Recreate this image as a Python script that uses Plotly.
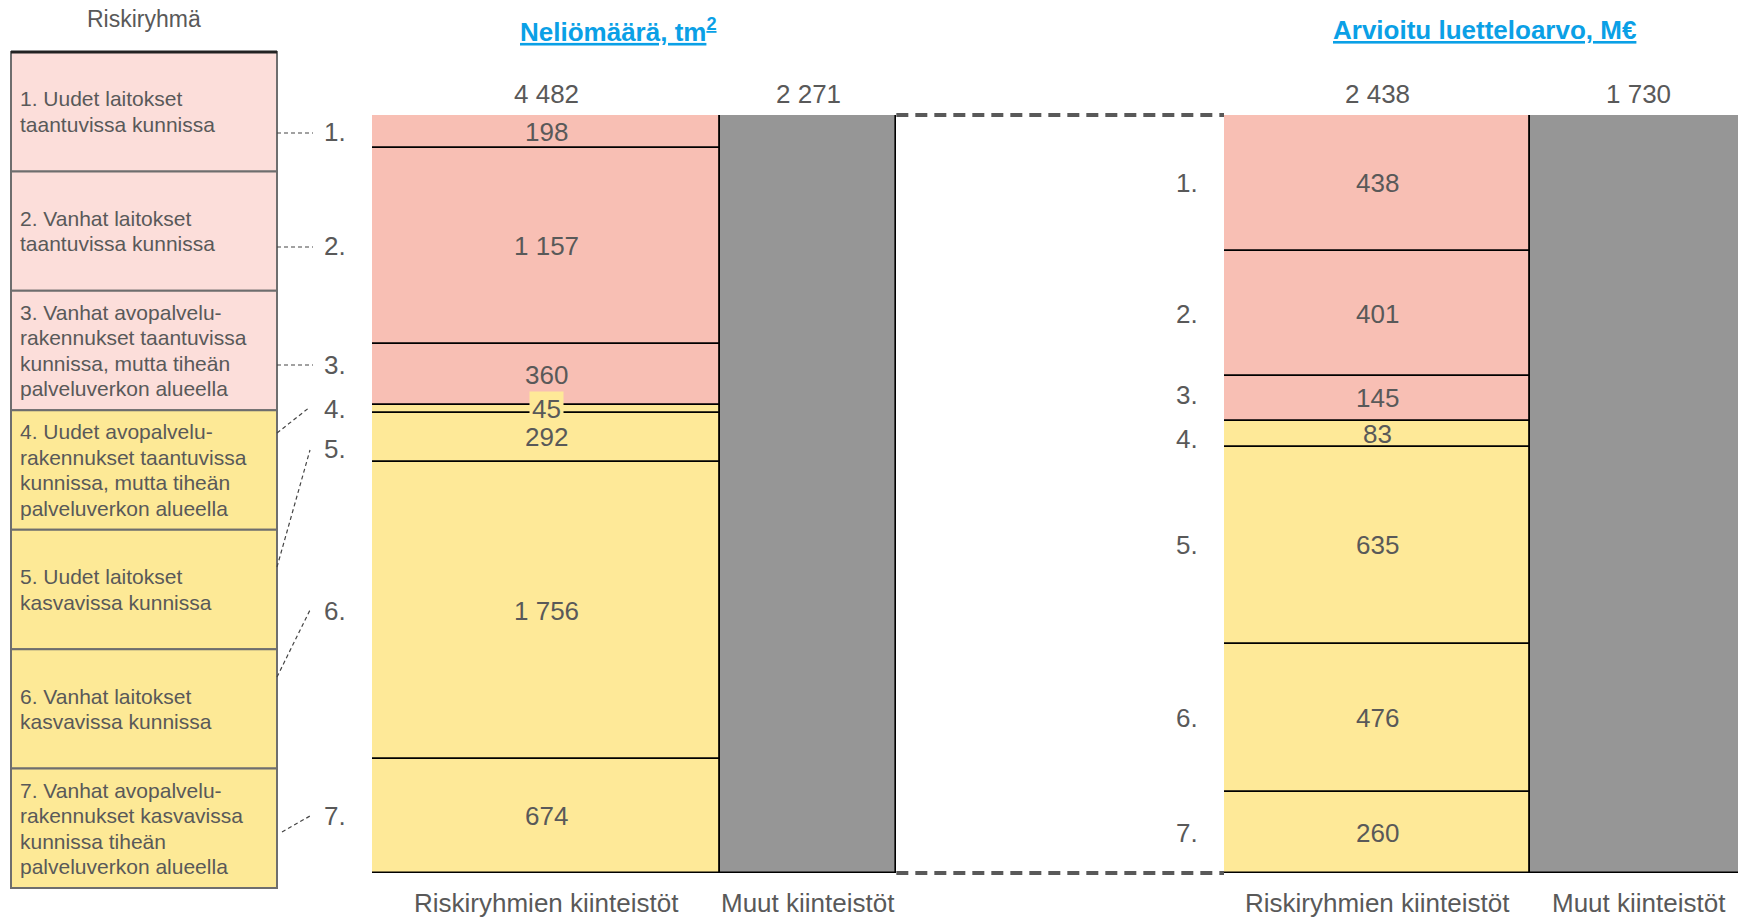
import plotly.graph_objects as go

# ---- data -------------------------------------------------------------
group_numbers = ["1.", "2.", "3.", "4.", "5.", "6.", "7."]
group_names = [
    "1. Uudet laitokset<br>taantuvissa kunnissa",
    "2. Vanhat laitokset<br>taantuvissa kunnissa",
    "3. Vanhat avopalvelu-<br>rakennukset taantuvissa<br>kunnissa, mutta tiheän<br>palveluverkon alueella",
    "4. Uudet avopalvelu-<br>rakennukset taantuvissa<br>kunnissa, mutta tiheän<br>palveluverkon alueella",
    "5. Uudet laitokset<br>kasvavissa kunnissa",
    "6. Vanhat laitokset<br>kasvavissa kunnissa",
    "7. Vanhat avopalvelu-<br>rakennukset kasvavissa<br>kunnissa tiheän<br>palveluverkon alueella",
]
declining_municipality = [True, True, True, False, False, False, False]

area_risk = [198, 1157, 360, 45, 292, 1756, 674]   # tm2
area_other = 2271
value_risk = [438, 401, 145, 83, 635, 476, 260]    # M€
value_other = 1730

column_labels = ["Riskiryhmien kiinteistöt", "Muut kiinteistöt"]
panel_titles = ["Neliömäärä, tm<sup>2</sup>", "Arvioitu luetteloarvo, M€"]
legend_title = "Riskiryhmä"

# ---- styling ----------------------------------------------------------
W, H = 1738, 919
FONT = "Liberation Sans, Arial, sans-serif"
TXT = "#595959"
BLUE = "#0AA0E6"
PINK = "#F8BFB4"
YELLOW = "#FEE998"
PINK_LIGHT = "#FCDEDA"
YELLOW_LIGHT = "#FDE996"
GREY = "#969696"

NUM_SIZE = 26
KEY_SIZE = 21
KEY_LINE = 25.5

BAR_TOP, BAR_BOTTOM = 115, 873

def px(x):
    return x / W

def py(y):
    return 1 - y / H

fig = go.Figure()
annotations = []
shapes = []

# number-label nudges where neighbouring segments are thin
nudges = {
    "x": {2: 10, 4: -12},
    "x2": {2: 3, 3: -5},
}

def fmt(v):
    return f"{v:,}".replace(",", " ")

def add_panel(axis, risk, other, left_px, risk_px):
    total = sum(risk)
    ppu = risk_px / total
    right_px = min(W, left_px + (total + other) * ppu)
    layout_key = "xaxis" if axis == "x" else "xaxis2"
    yaxis = "y" if axis == "x" else "y2"
    fig.update_layout(**{
        layout_key: dict(domain=[px(left_px), px(right_px)],
                         range=[0, (right_px - left_px) / ppu],
                         visible=False, fixedrange=True),
        ("yaxis" if axis == "x" else "yaxis2"): dict(
            domain=[py(BAR_BOTTOM), py(BAR_TOP)], range=[1, 0],
            visible=False, fixedrange=True),
    })

    shares = [v / total for v in risk]
    bases = []
    acc = 0.0
    for s in shares:
        bases.append(acc)
        acc += s
    colors = [PINK if d else YELLOW for d in declining_municipality]

    fig.add_trace(go.Bar(
        x=[total / 2] * len(risk), y=shares, base=bases, width=[total] * len(risk),
        marker=dict(color=colors, line=dict(color="black", width=1.6)),
        xaxis=axis, yaxis=yaxis, showlegend=False, hoverinfo="skip",
    ))
    fig.add_trace(go.Bar(
        x=[total + other / 2], y=[1], base=[0], width=[other],
        marker=dict(color=GREY, line=dict(color="black", width=1.6)),
        xaxis=axis, yaxis=yaxis, showlegend=False, hoverinfo="skip",
    ))

    # values inside segments
    for i, (v, s, b) in enumerate(zip(risk, shares, bases)):
        small = s < 0.03
        ann = dict(
            x=total / 2, y=b + s / 2, xref=axis, yref=yaxis,
            xanchor="center", yanchor="middle",
            text=fmt(v), showarrow=False,
            font=dict(family=FONT, size=NUM_SIZE, color=TXT),
        )
        if small:
            ann.update(bgcolor=YELLOW, borderpad=2)
        annotations.append(ann)
        annotations.append(dict(
            x=0, y=b + s / 2, xref=axis, yref=yaxis,
            xanchor="right", yanchor="middle",
            xshift=-24, yshift=nudges[axis].get(i, 0),
            text=group_numbers[i], showarrow=False,
            font=dict(family=FONT, size=NUM_SIZE, color=TXT),
        ))

    # column totals and captions
    for cx, val, cap in [(total / 2, total, column_labels[0]),
                         (total + other / 2, other, column_labels[1])]:
        annotations.append(dict(
            x=cx, y=0, xref=axis, yref=yaxis,
            xanchor="center", yanchor="middle", yshift=BAR_TOP - 94,
            text=fmt(val), showarrow=False,
            font=dict(family=FONT, size=NUM_SIZE, color=TXT),
        ))
        annotations.append(dict(
            x=cx, y=1, xref=axis, yref=yaxis,
            xanchor="center", yanchor="middle", yshift=BAR_BOTTOM - 903,
            text=cap, showarrow=False, borderpad=0,
            font=dict(family=FONT, size=NUM_SIZE, color=TXT),
        ))
    return left_px, left_px + (total + other) * ppu

l_left, l_right = add_panel("x", area_risk, area_other, 372, 348)
r_left, r_right = add_panel("x2", value_risk, value_other, 1224, 306)

# panel titles
for tx, t in [(618, panel_titles[0]), (1484, panel_titles[1])]:
    annotations.append(dict(
        x=px(tx), y=py(30), xref="paper", yref="paper",
        xanchor="center", yanchor="middle",
        text=f"<u><b>{t}</b></u>", showarrow=False,
        font=dict(family=FONT, size=26, color=BLUE),
    ))

# dashed links between the two panels
for yy in (BAR_TOP, BAR_BOTTOM):
    shapes.append(dict(
        type="line", xref="paper", yref="paper",
        x0=px(l_right), x1=px(r_left), y0=py(yy), y1=py(yy),
        line=dict(color="#595959", width=4, dash="12px,7px"),
    ))

# risk-group key on the left
BOX_L, BOX_R, BOX_T, BOX_B = 11, 277, 52, 888
row_h = (BOX_B - BOX_T) / len(group_names)
for i, name in enumerate(group_names):
    y0 = BOX_T + i * row_h
    shapes.append(dict(
        type="rect", xref="paper", yref="paper",
        x0=px(BOX_L), x1=px(BOX_R), y0=py(y0), y1=py(y0 + row_h),
        fillcolor=PINK_LIGHT if declining_municipality[i] else YELLOW_LIGHT,
        line=dict(color="#6E6E6E", width=2), layer="below",
    ))
    lines = name.split("<br>")
    yc = y0 + row_h / 2
    for k, line in enumerate(lines):
        ly = yc + (k - (len(lines) - 1) / 2) * KEY_LINE
        annotations.append(dict(
            x=px(BOX_L + 7), y=py(ly), xref="paper", yref="paper",
            xanchor="left", yanchor="middle", align="left",
            text=line, showarrow=False,
            font=dict(family=FONT, size=KEY_SIZE, color=TXT),
        ))
shapes.append(dict(
    type="line", xref="paper", yref="paper",
    x0=px(BOX_L), x1=px(BOX_R), y0=py(BOX_T), y1=py(BOX_T),
    line=dict(color="#222222", width=3),
))
annotations.append(dict(
    x=px((BOX_L + BOX_R) / 2), y=py(19), xref="paper", yref="paper",
    xanchor="center", yanchor="middle",
    text=legend_title, showarrow=False,
    font=dict(family=FONT, size=23, color=TXT),
))

# thin leader lines from key rows to the group numbers
leaders = [
    ((277, 133), (313, 133)),
    ((277, 247), (313, 247)),
    ((277, 365), (313, 365)),
    ((277, 433), (310, 407)),
    ((277, 567), (310, 450)),
    ((277, 677), (310, 610)),
    ((282, 832), (310, 816)),
]
for (xa, ya), (xb, yb) in leaders:
    shapes.append(dict(
        type="line", xref="paper", yref="paper",
        x0=px(xa), y0=py(ya), x1=px(xb), y1=py(yb),
        line=dict(color="#444444", width=1.2, dash="4px,3px"),
    ))

fig.update_layout(
    width=W, height=H, margin=dict(l=0, r=0, t=0, b=0),
    paper_bgcolor="white", plot_bgcolor="rgba(0,0,0,0)",
    barmode="overlay", bargap=0,
    annotations=annotations, shapes=shapes,
    font=dict(family=FONT, color=TXT),
)

fig.write_html("out.html")
